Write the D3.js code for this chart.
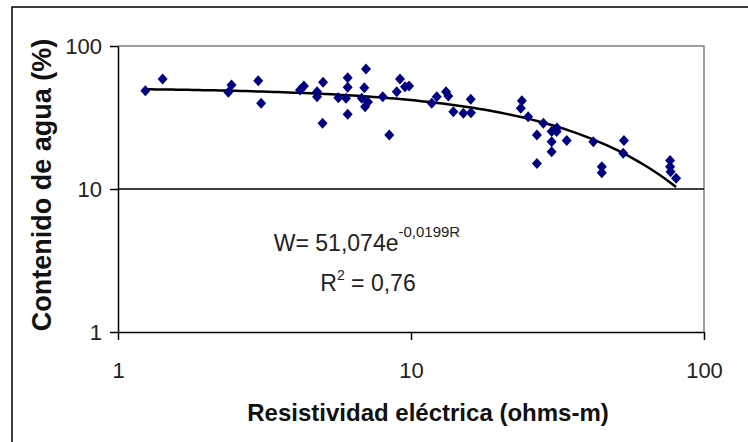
<!DOCTYPE html>
<html>
<head>
<meta charset="utf-8">
<script src="https://cdn.jsdelivr.net/npm/d3@7"></script>
<style>
  body { margin: 0; background: #fff; }
  svg { display: block; font-family: "Liberation Sans", Arial, sans-serif; }
</style>
</head>
<body>
<div id="plot"></div>
<script>
// Data (resistivity in ohms-m, water content in %)
let resistivity = [1.24, 1.42, 2.44, 2.38, 3.01, 3.08, 4.31, 4.18, 5.01, 4.78, 4.78, 4.99,
  6.08, 6.08, 5.65, 6.0, 6.08, 7.02, 6.93, 6.79, 6.97, 7.13, 8.01, 8.43, 9.17, 9.54, 8.94, 9.85,
  11.77, 12.24, 13.17, 13.41, 13.95, 15.09, 15.99, 16.02, 23.9, 23.7, 25.1, 26.9, 26.9, 28.3,
  30.2, 30.2, 30.2, 31.4, 31.5, 34.0, 41.9, 44.8, 44.8, 53.3, 53.0, 76.6, 76.6, 76.9, 80.3]
let waterContent = [48.7, 58.8, 53.4, 47.5, 57.2, 39.7, 52.5, 49.2, 55.7, 47.9, 44.2, 28.8,
  60.0, 51.4, 43.5, 43.1, 33.3, 69.1, 51.1, 43.1, 37.6, 40.6, 44.2, 23.9, 58.8, 51.9, 47.9, 52.5,
  39.7, 44.2, 47.9, 44.7, 34.7, 33.8, 42.4, 34.2, 41.4, 36.7, 32.0, 23.9, 15.1, 28.8,
  25.2, 21.4, 18.2, 25.2, 26.7, 21.8, 21.4, 14.3, 13.0, 21.8, 17.8, 15.8, 14.3, 13.2, 11.9]

// Exponential trendline shown on the chart: W = 51,074 e^(-0,0199 R)
let fitA = 51.074
let fitB = -0.0199
let fitRange = [1.24, 80.3]

let xTicks = [1, 10, 100]
let yTicks = [1, 10, 100]

// Plot constants
let width = 748, height = 442
let margin = {t: 46, r: 44, b: 110, l: 118}

let svg = d3.select('#plot')
  .append('svg')
  .attr('width', width)
  .attr('height', height)

// Outer frame (only left and top edges are in the picture)
svg.append('path')
  .attr('d', `M12,${height}V7H${width}`)
  .attr('fill', 'none')
  .attr('stroke', '#000')
  .attr('stroke-width', 1.5)

let x = d3.scaleLog().domain([1, 100]).range([margin.l, width - margin.r])
let y = d3.scaleLog().domain([1, 100]).range([height - margin.b, margin.t])

// Plot area border (grey top and right)
svg.append('path')
  .attr('d', `M${x(1)},${y(100)}H${x(100)}V${y(1)}`)
  .attr('fill', 'none')
  .attr('stroke', '#808080')
  .attr('stroke-width', 1.5)

// Horizontal gridline at 10
svg.append('line')
  .attr('x1', x(1)).attr('x2', x(100))
  .attr('y1', y(10)).attr('y2', y(10))
  .attr('stroke', '#000')
  .attr('stroke-width', 1.5)

// Axes
let xAxis = d3.axisBottom(x)
  .tickValues(xTicks)
  .tickFormat(d3.format('d'))
  .tickSizeInner(8)
  .tickSizeOuter(0)
  .tickPadding(22)

let yAxis = d3.axisLeft(y)
  .tickValues(yTicks)
  .tickFormat(d3.format('d'))
  .tickSizeInner(8)
  .tickSizeOuter(0)
  .tickPadding(8)

let gx = svg.append('g')
  .attr('transform', `translate(0,${y(1)})`)
  .call(xAxis)
let gy = svg.append('g')
  .attr('transform', `translate(${x(1)},0)`)
  .call(yAxis)

;[gx, gy].forEach(function(g){
  g.select('.domain').attr('stroke', '#000').attr('stroke-width', 1.5)
  g.selectAll('.tick line').attr('stroke', '#000').attr('stroke-width', 1.5)
  g.selectAll('.tick text')
    .attr('fill', '#222')
    .style('font-size', '22px')
    .style('font-family', '"Liberation Sans", Arial, sans-serif')
})
gx.selectAll('.tick text').attr('dy', '0.71em')

// Trendline
let fitXs = d3.range(0, 101).map(function(i){
  let lo = Math.log10(fitRange[0]), hi = Math.log10(fitRange[1])
  return Math.pow(10, lo + (hi - lo) * i / 100)
})
let line = d3.line()
  .x(function(d){ return x(d) })
  .y(function(d){ return y(fitA * Math.exp(fitB * d)) })

svg.append('path')
  .datum(fitXs)
  .attr('d', line)
  .attr('fill', 'none')
  .attr('stroke', '#000')
  .attr('stroke-width', 2.5)

// Diamond markers
let points = resistivity.map(function(r, i){ return {r: r, w: waterContent[i]} })
svg.append('g')
  .selectAll('path')
  .data(points)
  .enter().append('path')
  .attr('d', 'M0,-5.5L5,0L0,5.5L-5,0Z')
  .attr('transform', function(d){ return `translate(${x(d.r)},${y(d.w)})` })
  .attr('fill', '#000080')

// Equation annotation
let eq = svg.append('text')
  .attr('x', 367)
  .attr('y', 251)
  .attr('text-anchor', 'middle')
  .style('font-size', '23px')
  .attr('fill', '#222')
eq.append('tspan').text('W= 51,074e')
eq.append('tspan')
  .attr('dy', -14)
  .style('font-size', '15px')
  .text('-0,0199R')

let r2 = svg.append('text')
  .attr('x', 368)
  .attr('y', 291)
  .attr('text-anchor', 'middle')
  .style('font-size', '23px')
  .attr('fill', '#222')
r2.append('tspan').text('R')
r2.append('tspan').attr('dy', -11).style('font-size', '14px').text('2')
r2.append('tspan').attr('dy', 11).text(' = 0,76')

// Axis titles
svg.append('text')
  .attr('x', 428)
  .attr('y', 421)
  .attr('text-anchor', 'middle')
  .style('font-size', '24px')
  .style('font-weight', 'bold')
  .attr('fill', '#111')
  .text('Resistividad eléctrica (ohms-m)')

svg.append('text')
  .attr('transform', 'translate(51,185) rotate(-90)')
  .attr('text-anchor', 'middle')
  .style('font-size', '27px')
  .style('font-weight', 'bold')
  .attr('fill', '#111')
  .text('Contenido de agua (%)')
</script>
</body>
</html>
